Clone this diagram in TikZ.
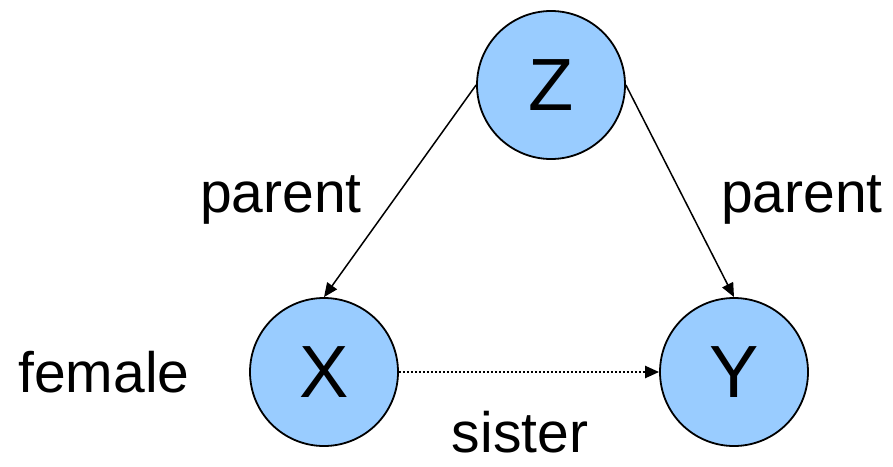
\documentclass[tikz,border=0pt]{standalone}
\usepackage{fontspec}
\setmainfont{Liberation Sans}
\usetikzlibrary{arrows.meta}
\definecolor{nodeblue}{HTML}{99CCFF}
\newcommand{\lowerletter}[1]{\raisebox{-3pt}{#1}}
\begin{document}
\begin{tikzpicture}[x=1pt,y=-1pt,
  varnode/.style={circle,draw=black,line width=1.8pt,fill=nodeblue,minimum size=148pt,inner sep=0pt,font=\fontsize{74}{80}\selectfont},
  lbl/.style={anchor=base,inner sep=0pt,font=\fontsize{57}{62}\selectfont},
  edge/.style={line width=1.5pt,-{Triangle[length=14pt,width=12pt]}}]
\useasboundingbox (0,0) rectangle (893,466);
\node[varnode] (Z) at (551,85) {\lowerletter{Z}};
\node[varnode] (X) at (324,372) {\lowerletter{X}};
\node[varnode] (Y) at (734,372) {\lowerletter{Y}};
\draw[edge] (Z.west) -- (X.north);
\draw[edge] (Z.east) -- (Y.north);
\draw[line width=2.3pt,dash pattern=on 2.5pt off 1.5pt,-{Triangle[length=14pt,width=12pt]}] (X.east) -- (Y.west);
\node[lbl] (p1) at (281,212) {parent};
\node[lbl] (p2) at (802,212) {parent};
\node[lbl] (fe) at (104,392) {female};
\node[lbl] (si) at (520,452) {sister};
\end{tikzpicture}
\end{document}
